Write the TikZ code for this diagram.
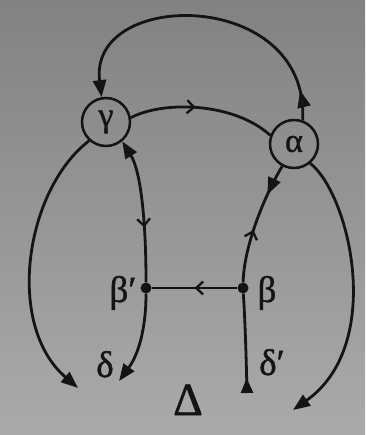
\documentclass[tikz,border=0pt]{standalone}
\usepackage{fontspec}
\setmainfont{Liberation Serif}
\newfontfamily\lblfont[FakeBold=1.2]{Liberation Serif}
\usetikzlibrary{arrows.meta,decorations.markings}
\definecolor{ink}{RGB}{20,20,20}
\definecolor{bgTop}{RGB}{130,130,130}
\definecolor{bgBot}{RGB}{170,170,170}
\tikzset{
  ln/.style={draw=ink,line width=2.8pt},
  tri/.tip={Triangle[length=17pt,width=13pt]},
  circ/.style={circle,draw=ink,line width=2.5pt,minimum size=48pt,inner sep=0pt,text=ink,font=\lblfont\fontsize{34}{38}\selectfont},
  dotnode/.style={circle,fill=ink,minimum size=11pt,inner sep=0pt},
  lab/.style={anchor=base,inner sep=0pt,text=ink,font=\lblfont\fontsize{37}{40}\selectfont},
  midopen/.style={postaction={decorate,decoration={markings,mark=at position #1 with {\arrow[ink]{Straight Barb[length=7pt,width=13pt,line width=2.3pt]}}}}},
  midopenrev/.style={postaction={decorate,decoration={markings,mark=at position #1 with {\arrowreversed[ink]{Straight Barb[length=7pt,width=13pt,line width=2.3pt]}}}}},
  midfill/.style={postaction={decorate,decoration={markings,mark=at position #1 with {\arrow[ink]{tri}}}}}
}
\begin{document}
\begin{tikzpicture}[x=1pt,y=-1pt]
\fill[top color=bgTop,bottom color=bgBot] (0,0) rectangle (365,435);
\useasboundingbox (0,0) rectangle (365,435);

\node[circ] (g) at (106,122) {γ};
\node[circ] (a) at (294,144) {α};
\node[dotnode] (bp) at (146,288) {};
\node[dotnode] (b) at (243,288) {};
\coordinate (e1) at (78,388);
\coordinate (e2) at (119,381);
\coordinate (e3) at (247,393);
\coordinate (e4) at (293,410);

% top arc alpha -> gamma
\draw[ln,-tri,midfill=30pt] (a.70) .. controls (310,-12) and (88,-12) .. (g.100);
% gamma -> alpha
\draw[ln,midopen=0.45] (g.10) .. controls (165,100) and (235,103) .. (a.160);
% gamma left outer
\draw[ln,-tri] (g.228) .. controls (25,190) and (5,325) .. (e1);
% gamma bottom to beta'
\draw[ln,tri-,midopen=0.62] (g.-50) .. controls (140,170) and (146,215) .. (bp);
% beta' to delta
\draw[ln,-tri] (bp) .. controls (146,330) and (138,355) .. (e2);
% beta to beta'
\draw[ln,midopen=0.5] (b) -- (bp);
% alpha to beta
\draw[ln,midfill=32pt,midopenrev=70pt] (a.-118) .. controls (265,195) and (244,245) .. (b);
% beta down to delta'
\draw[ln,-{Triangle[length=15pt,width=12pt,reversed]}] (b) .. controls (245,320) and (246,350) .. (e3);
% alpha right outer
\draw[ln,-tri] (a.-50) .. controls (350,195) and (385,345) .. (e4);

\node[lab] (lbp) at (123,302) {β′};
\node[lab] (lb) at (267,302) {β};
\node[lab] (ld) at (105,377) {δ};
\node[lab] (ldp) at (272,375) {δ′};
\node[lab,font=\lblfont\fontsize{46}{50}\selectfont] (lD) at (188,415) {Δ};
\end{tikzpicture}
\end{document}
